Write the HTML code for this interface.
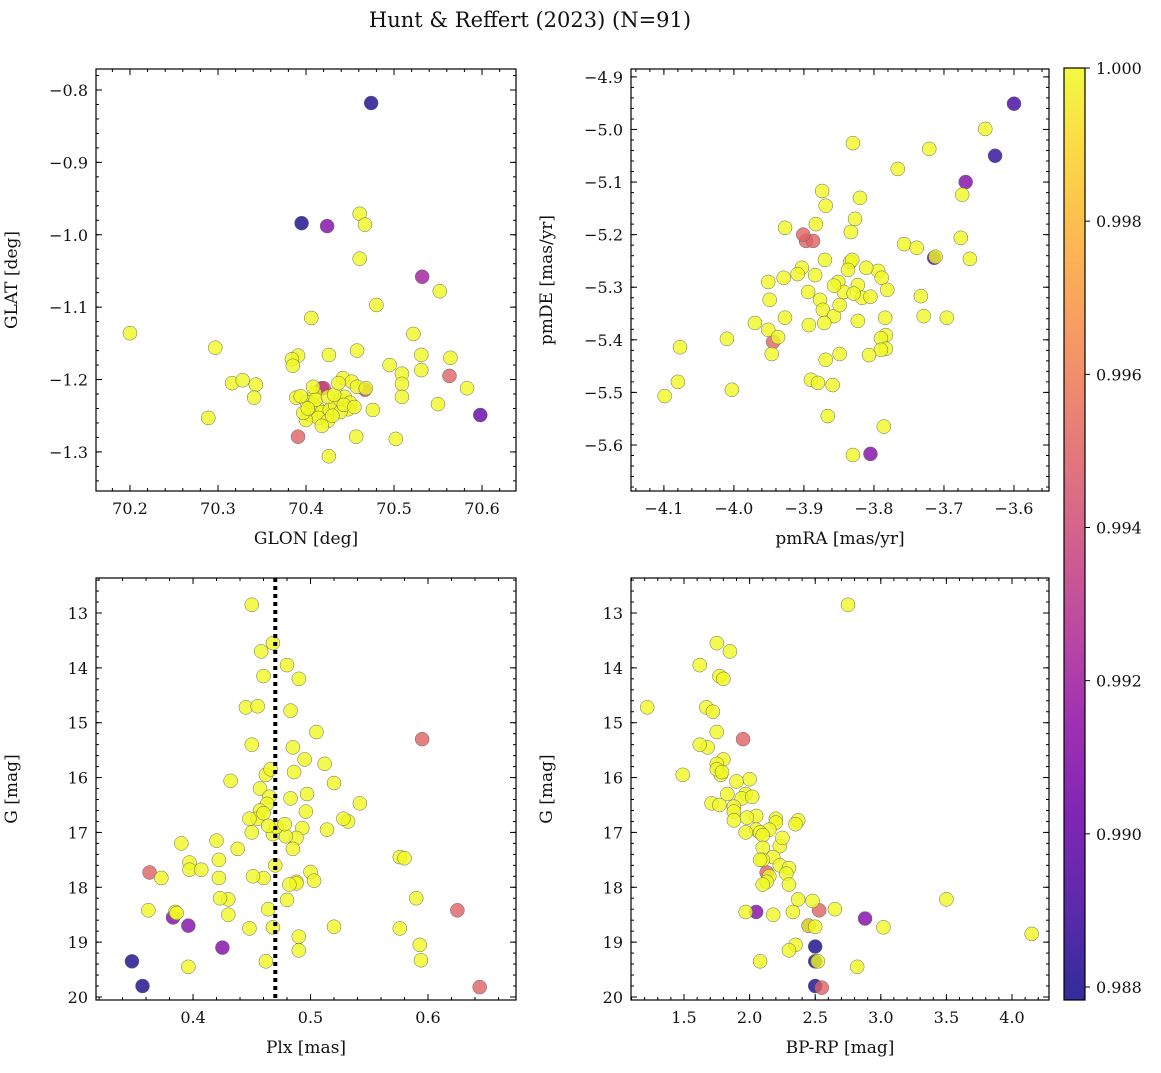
<!DOCTYPE html>
<html><head><meta charset="utf-8"><style>
body{margin:0;background:#fff;}
svg text{font-family:"DejaVu Serif","Liberation Serif",serif;fill:#111;}
</style></head><body>
<svg id="fig" width="1161" height="1068" viewBox="0 0 1161 1068" xmlns="http://www.w3.org/2000/svg">
<text x="530" y="27" font-size="21" text-anchor="middle">Hunt &amp; Reffert (2023) (N=91)</text>
<defs><linearGradient id="plasma" x1="0" y1="1" x2="0" y2="0">
<stop offset="0" stop-color="#0d0887"/><stop offset="0.1" stop-color="#41049d"/><stop offset="0.2" stop-color="#6a00a8"/><stop offset="0.3" stop-color="#8f0da4"/><stop offset="0.4" stop-color="#b12a90"/><stop offset="0.5" stop-color="#cc4778"/><stop offset="0.6" stop-color="#e16462"/><stop offset="0.7" stop-color="#f2844b"/><stop offset="0.8" stop-color="#fca636"/><stop offset="0.9" stop-color="#fcce25"/><stop offset="1" stop-color="#f0f921"/></linearGradient></defs>
<g id="panels"></g>
</svg>
<script>
// Top-left: GLON / GLAT
const tlX=[70.474,70.395,70.424,70.461,70.467,70.461,70.532,70.552,70.480,70.406,70.200,70.522,70.297,70.458,70.391,70.426,70.384,70.564,70.531,70.495,70.385,70.509,70.509,70.531,70.442,70.452,70.458,70.468,70.563,70.467,70.316,70.328,70.343,70.583,70.420,70.410,70.341,70.509,70.476,70.550,70.289,70.598,70.389,70.401,70.408,70.414,70.418,70.427,70.433,70.439,70.444,70.450,70.448,70.405,70.414,70.425,70.418,70.400,70.397,70.411,70.425,70.432,70.439,70.443,70.391,70.457,70.502,70.426,70.394,70.418,70.408,70.437,70.455,70.402,70.430];
const tlY=[-0.818,-0.984,-0.988,-0.971,-0.986,-1.033,-1.058,-1.078,-1.097,-1.115,-1.136,-1.137,-1.156,-1.160,-1.167,-1.166,-1.172,-1.170,-1.166,-1.180,-1.181,-1.192,-1.206,-1.187,-1.198,-1.203,-1.210,-1.212,-1.195,-1.214,-1.205,-1.201,-1.207,-1.212,-1.212,-1.219,-1.225,-1.224,-1.242,-1.234,-1.253,-1.249,-1.225,-1.231,-1.235,-1.241,-1.245,-1.242,-1.235,-1.228,-1.224,-1.232,-1.241,-1.249,-1.253,-1.257,-1.264,-1.256,-1.246,-1.228,-1.224,-1.221,-1.245,-1.235,-1.279,-1.279,-1.282,-1.306,-1.223,-1.212,-1.210,-1.205,-1.238,-1.240,-1.250];
const tlP=[0.988,0.988,0.991,1,1,1,0.992,1,1,1,1,1,1,1,1,1,1,1,1,1,1,1,1,1,1,1,1,1,0.995,0.994,1,1,1,1,0.994,1,1,1,1,1,1,0.990,1,1,1,1,1,1,1,1,1,1,1,1,1,1,1,1,1,1,1,1,1,1,0.995,1,1,1,1,0.992,1,1,1,1,1];
// Top-right: pmRA / pmDE
const trX=[-3.600,-3.641,-3.627,-3.830,-3.721,-3.669,-3.766,-3.874,-3.869,-3.674,-3.820,-3.827,-3.927,-3.676,-3.883,-3.757,-3.739,-3.714,-3.712,-3.663,-3.833,-3.834,-3.831,-3.837,-3.851,-3.823,-3.794,-3.811,-3.870,-3.884,-3.903,-3.909,-3.894,-3.877,-3.843,-3.873,-3.857,-3.849,-3.817,-3.789,-3.781,-3.733,-3.729,-3.696,-3.951,-3.929,-3.949,-3.927,-3.970,-3.951,-3.893,-3.871,-3.823,-3.784,-3.783,-3.849,-3.859,-3.790,-3.783,-3.790,-3.890,-3.869,-3.807,-3.937,-3.946,-3.944,-3.897,-3.887,-3.901,-4.077,-4.010,-4.080,-4.003,-4.099,-3.866,-3.786,-3.830,-3.805,-3.880,-3.857,-3.805,-3.829];
const trY=[-4.951,-4.999,-5.050,-5.026,-5.037,-5.100,-5.075,-5.117,-5.145,-5.124,-5.130,-5.170,-5.187,-5.206,-5.180,-5.218,-5.225,-5.244,-5.242,-5.246,-5.195,-5.252,-5.248,-5.267,-5.290,-5.296,-5.269,-5.263,-5.248,-5.277,-5.263,-5.275,-5.309,-5.324,-5.309,-5.343,-5.355,-5.334,-5.320,-5.282,-5.305,-5.317,-5.355,-5.358,-5.290,-5.282,-5.324,-5.358,-5.368,-5.381,-5.372,-5.368,-5.364,-5.358,-5.391,-5.427,-5.486,-5.397,-5.417,-5.419,-5.476,-5.438,-5.429,-5.395,-5.427,-5.404,-5.212,-5.212,-5.200,-5.414,-5.398,-5.480,-5.495,-5.507,-5.545,-5.565,-5.619,-5.617,-5.482,-5.297,-5.318,-5.312];
const trP=[0.989,1,0.9885,1,1,0.991,1,1,1,1,1,1,1,1,1,1,1,0.989,1,1,1,1,1,1,1,1,1,1,1,1,1,1,1,1,1,1,1,1,1,1,1,1,1,1,1,1,1,1,1,1,1,1,1,1,1,1,1,1,1,1,1,1,1,1,1,0.995,0.995,0.995,0.995,1,1,1,1,1,1,1,1,0.991,1,1,1,1];
// Bottom-left: Plx / G
const blX=[0.45,0.468,0.458,0.48,0.46,0.49,0.445,0.455,0.483,0.505,0.485,0.45,0.495,0.512,0.462,0.466,0.486,0.457,0.52,0.465,0.483,0.497,0.463,0.432,0.542,0.457,0.455,0.532,0.528,0.448,0.514,0.493,0.496,0.488,0.45,0.468,0.46,0.479,0.438,0.471,0.478,0.464,0.39,0.42,0.397,0.397,0.407,0.422,0.422,0.373,0.46,0.488,0.485,0.47,0.5,0.488,0.482,0.503,0.451,0.43,0.423,0.43,0.464,0.385,0.362,0.386,0.48,0.576,0.58,0.59,0.52,0.448,0.468,0.576,0.49,0.593,0.49,0.396,0.462,0.594,0.595,0.363,0.625,0.644,0.383,0.396,0.425,0.348,0.357];
const blY=[12.85,13.55,13.7,13.95,14.15,14.2,14.72,14.7,14.78,15.17,15.45,15.4,15.67,15.75,15.95,15.85,15.9,16.2,16.1,16.35,16.38,16.3,16.48,16.06,16.47,16.6,16.75,16.8,16.75,16.75,16.95,16.92,16.62,17.1,17.0,17.03,16.65,17.07,17.3,16.9,16.85,16.88,17.2,17.15,17.55,17.68,17.68,17.5,17.83,17.83,17.83,17.9,17.3,17.6,17.72,17.93,17.95,17.88,17.8,18.22,18.2,18.5,18.4,18.45,18.42,18.47,18.23,17.45,17.47,18.2,18.72,18.75,18.73,18.75,18.9,19.05,19.15,19.45,19.35,19.33,15.3,17.73,18.42,19.82,18.55,18.7,19.1,19.35,19.8];
const blP=[1,1,1,1,1,1,1,1,1,1,1,1,1,1,1,1,1,1,1,1,1,1,1,1,1,1,1,1,1,1,1,1,1,1,1,1,1,1,1,1,1,1,1,1,1,1,1,1,1,1,1,1,1,1,1,1,1,1,1,1,1,1,1,1,1,1,1,1,1,1,1,1,1,1,1,1,1,1,1,1,0.995,0.995,0.995,0.995,0.991,0.991,0.991,0.988,0.988];
// Bottom-right: BP-RP / G
const brX=[2.75,1.75,1.85,1.62,1.77,1.8,1.22,1.67,1.72,1.75,1.68,1.62,1.8,1.75,1.78,1.75,1.79,1.49,2.0,1.9,1.83,1.97,1.94,2.02,1.71,1.77,1.88,1.88,2.37,1.88,2.05,1.98,2.2,2.2,2.05,2.15,2.08,2.1,2.23,2.1,2.18,2.1,2.08,2.23,2.3,2.28,2.15,2.13,2.1,2.3,2.48,2.37,2.33,2.65,3.5,1.97,2.18,2.45,2.5,3.02,2.35,2.3,2.08,2.52,2.82,4.15,1.97,2.35,2.25,1.95,2.13,2.53,2.55,2.05,2.88,2.45,2.5,2.5,2.5];
const brY=[12.85,13.55,13.7,13.95,14.15,14.2,14.72,14.72,14.8,15.17,15.45,15.4,15.67,15.75,15.95,15.85,15.9,15.95,16.03,16.07,16.3,16.3,16.38,16.35,16.47,16.5,16.53,16.62,16.78,16.78,16.7,16.73,16.75,16.82,16.95,16.95,17.0,17.05,17.25,17.28,17.45,17.5,17.5,17.6,17.65,17.75,17.8,17.9,17.95,17.95,18.25,18.22,18.45,18.4,18.22,18.45,18.5,18.7,18.72,18.73,19.05,19.15,19.35,19.35,19.45,18.85,17.0,16.85,17.1,15.3,17.73,18.42,19.83,18.45,18.57,18.7,19.08,19.8,19.35];
const brP=[1,1,1,1,1,1,1,1,1,1,1,1,1,1,1,1,1,1,1,1,1,1,1,1,1,1,1,1,1,1,1,1,1,1,1,1,1,1,1,1,1,1,1,1,1,1,1,1,1,1,1,1,1,1,1,1,1,1,1,1,1,1,1,1,1,1,1,1,1,0.995,0.995,0.995,0.995,0.991,0.991,0.991,0.988,0.988,0.988];
const glonTicks=[70.2,70.3,70.4,70.5,70.6];
const glatTicks=[-0.8,-0.9,-1.0,-1.1,-1.2,-1.3];
const pmraTicks=[-4.1,-4.0,-3.9,-3.8,-3.7,-3.6];
const pmdeTicks=[-4.9,-5.0,-5.1,-5.2,-5.3,-5.4,-5.5,-5.6];
const plxTicks=[0.4,0.5,0.6];
const gTicks=[13,14,15,16,17,18,19,20];
const bprpTicks=[1.5,2.0,2.5,3.0,3.5,4.0];
const cbTicks=[0.988,0.990,0.992,0.994,0.996,0.998,1.000];
const plxLine=0.47;
const pMin=0.98783,pMax=1.0;

const NS="http://www.w3.org/2000/svg";
const root=document.getElementById('panels');
function mk(tag,attrs,parent){const e=document.createElementNS(NS,tag);for(const k in attrs)e.setAttribute(k,attrs[k]);(parent||root).appendChild(e);return e;}
const stops=[[0,[13,8,135]],[0.1,[65,4,157]],[0.2,[106,0,168]],[0.3,[143,13,164]],[0.4,[177,42,144]],[0.5,[204,71,120]],[0.6,[225,100,98]],[0.7,[242,132,75]],[0.8,[252,166,54]],[0.9,[252,206,37]],[1,[240,249,33]]];
function plasma(t){t=Math.max(0,Math.min(1,t));for(let i=1;i<stops.length;i++){if(t<=stops[i][0]){const a=stops[i-1],b=stops[i];const f=(t-a[0])/(b[0]-a[0]);return 'rgb('+a[1].map((v,j)=>Math.round(v+(b[1][j]-v)*f)).join(',')+')';}}return 'rgb(240,249,33)';}
function fmt(v,d){const s=Math.abs(v).toFixed(d);return (v<0?'\u2212':'')+s;}

function panel(o){
  const g=mk('g',{});
  
  
  const sx=v=>o.L+(v-o.x0)/(o.x1-o.x0)*(o.R-o.L);
  const sy=v=>o.T+(v-o.y0)/(o.y1-o.y0)*(o.B-o.T);
  const idx=o.xs.map((_,i)=>i).sort((a,b)=>o.ps[a]-o.ps[b]);
  const pg=mk('g',{},g);
  for(const i of idx){
    const c=mk('circle',{cx:sx(o.xs[i]),cy:sy(o.ys[i]),r:7,fill:plasma((o.ps[i]-pMin)/(pMax-pMin)),'fill-opacity':0.8,stroke:'#666','stroke-width':0.5},pg);
    
    
  }
  if(o.vline!==undefined){
    const l=mk('line',{x1:sx(o.vline),x2:sx(o.vline),y1:o.T,y2:o.B,stroke:'#000','stroke-width':4,'stroke-dasharray':'4,4'},g);
    
    
  }
  const fr=mk('rect',{x:o.L,y:o.T,width:o.R-o.L,height:o.B-o.T,fill:'none',stroke:'#000','stroke-width':1.2},g);
  
  
  const mx0=Math.ceil(Math.min(o.x0,o.x1)/o.xm-1e-6),mx1=Math.floor(Math.max(o.x0,o.x1)/o.xm+1e-6);
  for(let k=mx0;k<=mx1;k++){const x=sx(k*o.xm);mk('line',{x1:x,x2:x,y1:o.B,y2:o.B-3,stroke:'#000'},g);mk('line',{x1:x,x2:x,y1:o.T,y2:o.T+3,stroke:'#000'},g);}
  const my0=Math.ceil(Math.min(o.y0,o.y1)/o.ym-1e-6),my1=Math.floor(Math.max(o.y0,o.y1)/o.ym+1e-6);
  for(let k=my0;k<=my1;k++){const y=sy(k*o.ym);mk('line',{x1:o.L,x2:o.L+3,y1:y,y2:y,stroke:'#000'},g);mk('line',{x1:o.R,x2:o.R-3,y1:y,y2:y,stroke:'#000'},g);}
  for(const v of o.xt){const x=sx(v);mk('line',{x1:x,x2:x,y1:o.B,y2:o.B-6,stroke:'#000'},g);mk('line',{x1:x,x2:x,y1:o.T,y2:o.T+6,stroke:'#000'},g);
    const t=mk('text',{x:x,y:o.B+23,'font-size':16,'text-anchor':'middle'},g);t.textContent=fmt(v,o.xd);
    
    }
  for(const v of o.yt){const y=sy(v);mk('line',{x1:o.L,x2:o.L+6,y1:y,y2:y,stroke:'#000'},g);mk('line',{x1:o.R,x2:o.R-6,y1:y,y2:y,stroke:'#000'},g);
    const t=mk('text',{x:o.L-8,y:y+6,'font-size':16,'text-anchor':'end'},g);t.textContent=fmt(v,o.yd);
    
    }
  const xl=mk('text',{x:(o.L+o.R)/2,y:o.B+53,'font-size':17,'text-anchor':'middle'},g);xl.textContent=o.xl;
  
  
  const yx=o.L-79,yy=(o.T+o.B)/2;
  const yl=mk('text',{x:yx,y:yy,'font-size':17,'text-anchor':'middle',transform:`rotate(-90 ${yx} ${yy})`},g);yl.textContent=o.yl;
  
  
}
panel({name:'glon-glat-panel',L:96,R:516,T:69,B:491,x0:70.1614,x1:70.6386,y0:-0.771,y1:-1.354,xm:0.02,ym:0.02,xt:glonTicks,yt:glatTicks,xd:1,yd:1,xl:'GLON [deg]',yl:'GLAT [deg]',xs:tlX,ys:tlY,ps:tlP});
panel({name:'proper-motion-panel',L:631,R:1049,T:69,B:491,x0:-4.147,x1:-3.55,y0:-4.885,y1:-5.6875,xm:0.02,ym:0.02,xt:pmraTicks,yt:pmdeTicks,xd:1,yd:1,xl:'pmRA [mas/yr]',yl:'pmDE [mas/yr]',xs:trX,ys:trY,ps:trP});
panel({name:'parallax-magnitude-panel',L:96,R:516,T:578,B:1000,x0:0.3174,x1:0.6749,y0:12.362,y1:20.055,xm:0.02,ym:0.2,xt:plxTicks,yt:gTicks,xd:1,yd:0,xl:'Plx [mas]',yl:'G [mag]',xs:blX,ys:blY,ps:blP,vline:plxLine});
panel({name:'color-magnitude-panel',L:631,R:1049,T:578,B:1000,x0:1.096,x1:4.282,y0:12.362,y1:20.055,xm:0.1,ym:0.2,xt:bprpTicks,yt:gTicks,xd:1,yd:0,xl:'BP-RP [mag]',yl:'G [mag]',xs:brX,ys:brY,ps:brP});
const cb=mk('g',{});


const cT=68,cB=1000,cL=1064,cR=1085;
const cy=v=>cB-(v-pMin)/(pMax-pMin)*(cB-cT);
mk('rect',{x:cL,y:cT,width:cR-cL,height:cB-cT,fill:'url(#plasma)','fill-opacity':0.85,stroke:'#000','stroke-width':1.2},cb);
for(const v of cbTicks){const y=cy(v);mk('line',{x1:cR,x2:cR+5,y1:y,y2:y,stroke:'#000'},cb);
  const t=mk('text',{x:cR+11,y:y+6,'font-size':16},cb);t.textContent=v.toFixed(3);
  
  }
</script>
</body></html>
